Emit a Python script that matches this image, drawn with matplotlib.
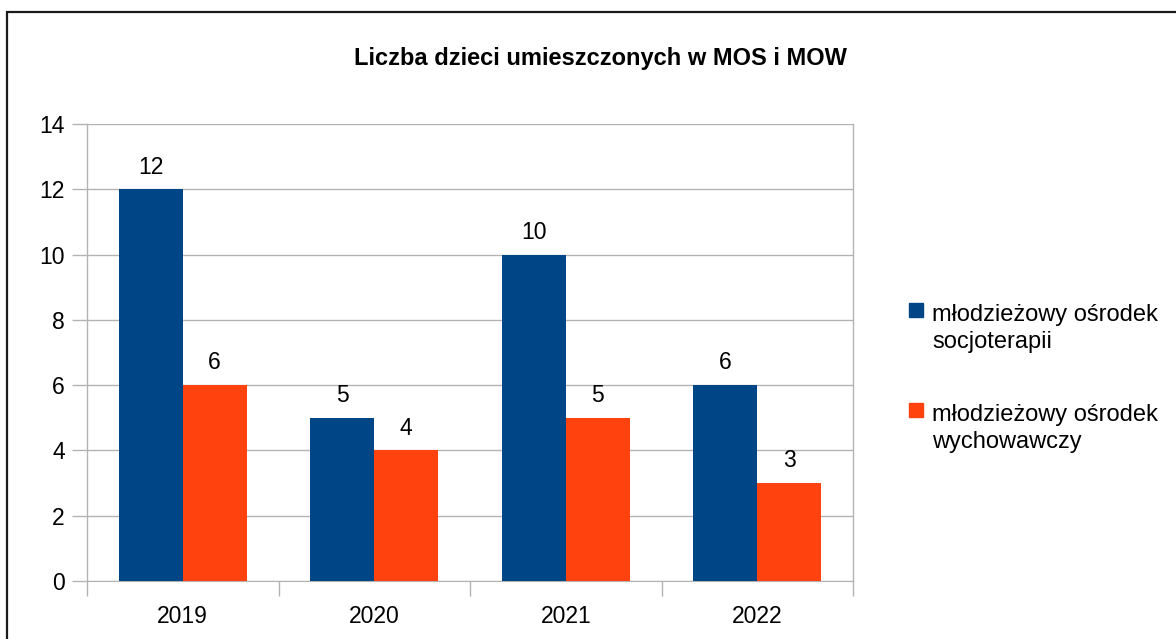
import numpy as np
import matplotlib
matplotlib.use("Agg")
from matplotlib import pyplot as plt
from matplotlib.patches import Rectangle

# dane wykresu
lata = ["2019", "2020", "2021", "2022"]
mos = [12, 5, 10, 6]
mow = [6, 4, 5, 3]
serie = ["młodzieżowy ośrodek\nsocjoterapii", "młodzieżowy ośrodek\nwychowawczy"]
kolory = ["#004586", "#FF420E"]

plt.rcParams['font.family'] = ['Liberation Sans', 'DejaVu Sans']

W, H = 1176, 639
fig = plt.figure(figsize=(W / 100, H / 100), dpi=100)

# ramka wokół całego wykresu (widoczna tylko z lewej i u góry)
fig.patches.append(Rectangle((7 / W, -0.1), 1.2, 1 - 12 / H + 0.1, transform=fig.transFigure,
                             fill=False, edgecolor="#1a1a1a", linewidth=1.6))

ax = fig.add_axes([87 / W, 1 - 581 / H, (853 - 87) / W, (581 - 124) / H])

x = np.arange(len(lata))
szer = 1 / 3
b1 = ax.bar(x - szer / 2, mos, width=szer, color=kolory[0], zorder=3)
b2 = ax.bar(x + szer / 2, mow, width=szer, color=kolory[1], zorder=3)

for bars in (b1, b2):
    for rect in bars:
        ax.text(rect.get_x() + rect.get_width() / 2, rect.get_height() + 0.33,
                f"{int(rect.get_height())}", ha="center", va="bottom", fontsize=16.5)

ax.set_xlim(-0.5, len(lata) - 0.5)
ax.set_ylim(0, 14)
ax.set_yticks(range(0, 15, 2))
ax.set_xticks(np.arange(-0.5, len(lata), 1.0))
ax.set_xticklabels([])
ax.set_xticks(x, minor=True)
ax.set_xticklabels(lata, minor=True)
ax.tick_params(axis="x", which="minor", length=0, pad=17, labelsize=16.5)
ax.tick_params(axis="x", which="major", length=11, color="#b3b3b3", width=1)
ax.tick_params(axis="y", length=11, color="#b3b3b3", width=1, labelsize=16.5, pad=5)

ax.grid(axis="y", color="#b3b3b3", linewidth=1, zorder=0)
for s in ["left", "right"]:
    ax.spines[s].set_color("#b3b3b3")
    ax.spines[s].set_linewidth(1)
ax.spines["top"].set_visible(False)
ax.spines["bottom"].set_color("#b3b3b3")

fig.text(600 / W, 1 - 58 / H, "Liczba dzieci umieszczonych w MOS i MOW",
         ha="center", va="center", fontsize=17, fontweight="bold")

# legenda rysowana ręcznie: kwadrat przy pierwszej linii opisu
for i, (label, kolor) in enumerate(zip(serie, kolory)):
    y0 = 303 + i * 100
    fig.patches.append(Rectangle((909 / W, 1 - (y0 + 14) / H), 14 / W, 14 / H,
                                 transform=fig.transFigure, color=kolor))
    for j, line in enumerate(label.split("\n")):
        fig.text(932 / W, 1 - (y0 + 18 + j * 27) / H, line, ha="left", va="baseline",
                 fontsize=17)

fig.savefig("out.png", dpi=100)
